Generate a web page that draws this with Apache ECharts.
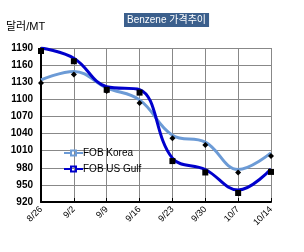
<!DOCTYPE html>
<html><head><meta charset="utf-8">
<script src="https://cdn.jsdelivr.net/npm/echarts@6/dist/echarts.min.js"></script>
<style>html,body{margin:0;padding:0;background:#fff}#c{width:304px;height:252px}</style>
</head><body><div id="c"></div>
<script>
var categories = ['8/26','9/2','9/9','9/16','9/23','9/30','10/7','10/14'];
var fobKorea = [1134, 1149, 1120, 1099, 1037, 1025, 977, 1006];
var fobUSGulf = [1190, 1172, 1122, 1117, 997, 977, 941, 978];
var yTicks = {min: 920, max: 1190, interval: 30};

var chart = echarts.init(document.getElementById('c'));
var F = 'Liberation Sans, Arial, sans-serif';
var NF = 'Liberation Sans Narrow, Arial Narrow, Liberation Sans, sans-serif';
var legendIcon = 'path://M0,2.5H6V0H13V2.5H19V4.5H13V7H6V4.5H0Z M8,2V5H11V2Z';
chart.setOption({
  animation: false,
  backgroundColor: '#fff',
  title: {
    text: 'Benzene 가격추이',
    left: 124, top: 13,
    padding: [2, 3, 2, 3],
    backgroundColor: '#3B5F8C',
    textStyle: {color: '#fff', fontSize: 10, fontWeight: 'normal', fontFamily: 'Liberation Sans, Noto Sans CJK KR, sans-serif'}
  },
  graphic: [{
    type: 'text', left: 6, top: 21,
    style: {text: '달러/MT', fill: '#000', font: '11px Liberation Sans, Noto Sans CJK KR, sans-serif'}
  }],
  legend: {
    orient: 'vertical', left: 59, top: 143, itemGap: 6, itemWidth: 19, itemHeight: 7,
    textStyle: {fontSize: 10, fontFamily: NF, color: '#000', padding: [0, 0, 0, -5]},
    data: [
      {name: 'FOB Korea', icon: legendIcon, itemStyle: {color: '#6C9BD6'}},
      {name: 'FOB US Gulf', icon: legendIcon, itemStyle: {color: '#0000CC'}}
    ]
  },
  grid: {left: 41, right: 33, top: 48, bottom: 50},
  xAxis: {
    type: 'category', data: categories, boundaryGap: false,
    axisLine: {lineStyle: {color: '#000', width: 2}},
    axisTick: {show: true, inside: true, length: 4, lineStyle: {color: '#000'}},
    axisLabel: {rotate: 45, fontSize: 9, color: '#000', fontFamily: F, margin: 6},
    splitLine: {show: true, lineStyle: {color: '#888', width: 1}}
  },
  yAxis: {
    type: 'value', min: yTicks.min, max: yTicks.max, interval: yTicks.interval,
    axisLine: {show: true, lineStyle: {color: '#000', width: 2}},
    axisTick: {show: false},
    axisLabel: {fontSize: 10, color: '#000', fontFamily: F, fontWeight: 'bold', margin: 8,
      formatter: function (v) { return String(v); }},
    splitLine: {show: true, lineStyle: {color: '#888', width: 1}}
  },
  series: [
    {name: 'FOB Korea', type: 'line', data: fobKorea, smooth: 0.4,
     lineStyle: {color: '#6C9BD6', width: 3}, itemStyle: {color: '#000'},
     symbol: 'diamond', symbolSize: 6, symbolOffset: [0, 3], z: 2},
    {name: 'FOB US Gulf', type: 'line', data: fobUSGulf, smooth: 0.4,
     lineStyle: {color: '#0000CC', width: 3}, itemStyle: {color: '#000'},
     symbol: 'rect', symbolSize: 6, symbolOffset: [0, 3], z: 3}
  ]
});
</script></body></html>
